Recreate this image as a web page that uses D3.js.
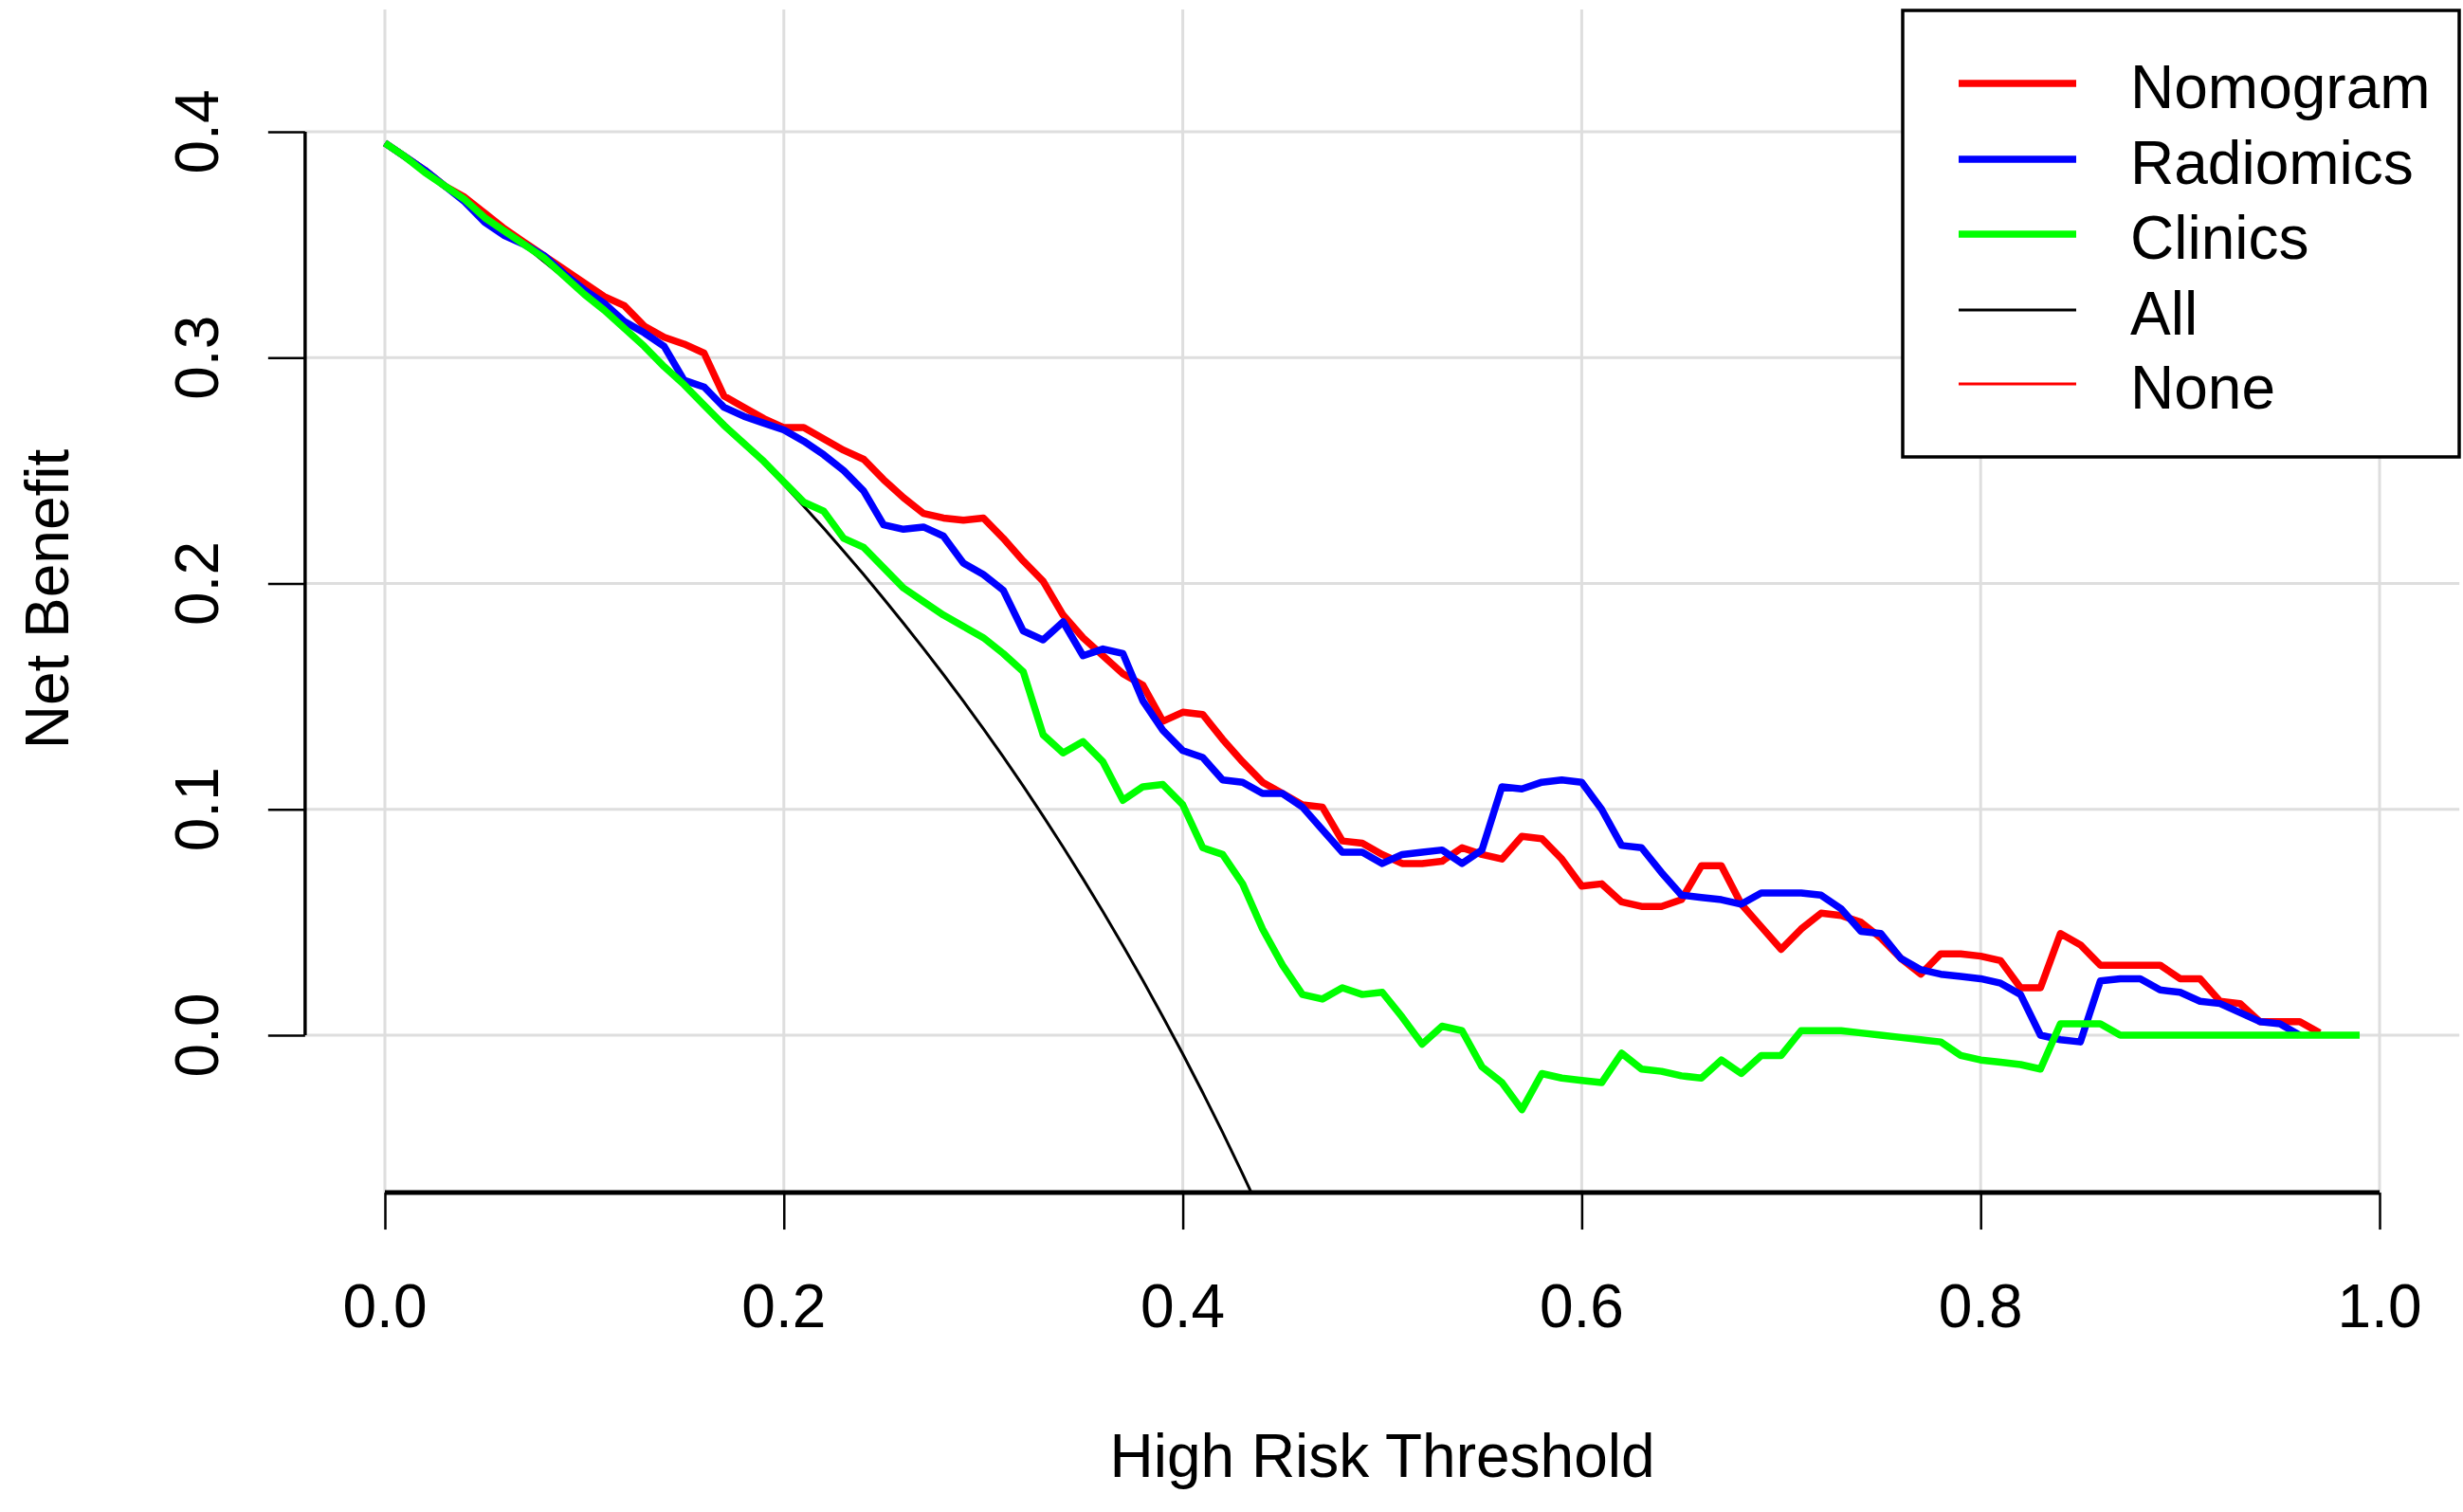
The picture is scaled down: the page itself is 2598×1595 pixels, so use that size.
<!DOCTYPE html>
<html>
<head>
<meta charset="utf-8">
<script src="https://cdn.jsdelivr.net/npm/d3@7/dist/d3.min.js"></script>
<style>
  html, body { margin: 0; padding: 0; background: #ffffff; }
  svg { display: block; }
  text { font-family: "Liberation Sans", Arial, "Helvetica", sans-serif; fill: #000; }
</style>
</head>
<body>
<svg id="chart" width="2598" height="1595"></svg>
<script>
// ---------- data ----------
const thresholds = [
  0.00,0.01,0.02,0.03,0.04,0.05,0.06,0.07,0.08,0.09,
  0.10,0.11,0.12,0.13,0.14,0.15,0.16,0.17,0.18,0.19,
  0.20,0.21,0.22,0.23,0.24,0.25,0.26,0.27,0.28,0.29,
  0.30,0.31,0.32,0.33,0.34,0.35,0.36,0.37,0.38,0.39,
  0.40,0.41,0.42,0.43,0.44,0.45,0.46,0.47,0.48,0.49,
  0.50,0.51,0.52,0.53,0.54,0.55,0.56,0.57,0.58,0.59,
  0.60,0.61,0.62,0.63,0.64,0.65,0.66,0.67,0.68,0.69,
  0.70,0.71,0.72,0.73,0.74,0.75,0.76,0.77,0.78,0.79,
  0.80,0.81,0.82,0.83,0.84,0.85,0.86,0.87,0.88,0.89,
  0.90,0.91,0.92,0.93,0.94,0.95,0.96,0.97,0.98,0.99
];

const nomogram = [
  0.395,0.389,0.383,0.376,0.371,0.364,0.357,0.351,0.345,0.339,
  0.333,0.327,0.323,0.314,0.309,0.306,0.302,0.283,0.278,0.273,
  0.269,0.269,0.264,0.259,0.255,0.246,0.238,0.231,0.229,0.228,
  0.229,0.220,0.210,0.201,0.186,0.176,0.168,0.160,0.155,0.139,
  0.143,0.142,0.131,0.121,0.112,0.107,0.102,0.101,0.086,0.085,
  0.080,0.076,0.076,0.077,0.083,0.080,0.078,0.088,0.087,0.078,
  0.066,0.067,0.059,0.057,0.057,0.060,0.075,0.075,0.058,0.048,
  0.038,0.047,0.054,0.053,0.050,0.043,0.034,0.027,0.036,0.036,
  0.035,0.033,0.021,0.021,0.045,0.040,0.031,0.031,0.031,0.031,
  0.025,0.025,0.015,0.014,0.006,0.006,0.006,0.001
];

const radiomics = [
  0.395,0.389,0.383,0.376,0.369,0.360,0.354,0.350,0.345,0.337,
  0.330,0.324,0.316,0.311,0.305,0.290,0.287,0.278,0.274,0.271,
  0.268,0.263,0.257,0.250,0.241,0.226,0.224,0.225,0.221,0.209,
  0.204,0.197,0.179,0.175,0.183,0.168,0.171,0.169,0.148,0.135,
  0.126,0.123,0.113,0.112,0.107,0.107,0.101,0.091,0.081,0.081,
  0.076,0.080,0.081,0.082,0.076,0.082,0.110,0.109,0.112,0.113,
  0.112,0.100,0.084,0.083,0.072,0.062,0.061,0.060,0.058,0.063,
  0.063,0.063,0.062,0.056,0.046,0.045,0.034,0.029,0.027,0.026,
  0.025,0.023,0.018,0.000,-0.002,-0.003,0.024,0.025,0.025,0.020,
  0.019,0.015,0.014,0.010,0.006,0.005,0.000
];

const clinics = [
  0.395,0.389,0.382,0.376,0.370,0.362,0.356,0.350,0.344,0.336,
  0.328,0.321,0.313,0.305,0.296,0.288,0.279,0.270,0.262,0.254,
  0.245,0.236,0.232,0.220,0.216,0.207,0.198,0.192,0.186,0.181,
  0.176,0.169,0.161,0.133,0.125,0.130,0.121,0.104,0.110,0.111,
  0.102,0.083,0.080,0.067,0.047,0.031,0.018,0.016,0.021,0.018,
  0.019,0.008,-0.004,0.004,0.002,-0.014,-0.021,-0.033,-0.017,-0.019,
  -0.020,-0.021,-0.008,-0.015,-0.016,-0.018,-0.019,-0.011,-0.017,-0.009,
  -0.009,0.002,0.002,0.002,0.001,0.000,-0.001,-0.002,-0.003,-0.009,
  -0.011,-0.012,-0.013,-0.015,0.005,0.005,0.005,0.000,0.000,0.000,
  0.000,0.000,0.000,0.000,0.000,0.000,0.000,0.000,0.000,0.000
];

const treatAll = [
  0.395,0.3889,0.3827,0.3763,0.3698,0.3632,0.3564,0.3495,0.3424,0.3352,
  0.3278,0.3202,0.3125,0.3046,0.2965,0.2882,0.2798,0.2711,0.2622,0.2531,
  0.2438,0.2342,0.2244,0.2143,0.2040,0.1933,0.1824,0.1712,0.1597,0.1479,
  0.1357,0.1232,0.1103,0.0970,0.0833,0.0692,0.0547,0.0397,0.0242,0.0082,
  -0.0083,-0.0254,-0.0431,-0.0614,-0.0804
];

const xTicks = [0.0, 0.2, 0.4, 0.6, 0.8, 1.0];
const yTicks = [0.0, 0.1, 0.2, 0.3, 0.4];
const xTickLabels = ["0.0", "0.2", "0.4", "0.6", "0.8", "1.0"];
const yTickLabels = ["0.0", "0.1", "0.2", "0.3", "0.4"];
const legendNames = ["Nomogram", "Radiomics", "Clinics", "All", "None"];
const legendColors = ["#ff0000", "#0000ff", "#00ff00", "#000000", "#ff0000"];
const legendWidths = [7.5, 7.5, 7.5, 3, 3];

// ---------- layout ----------
const svg = d3.select("#chart");
const x = d3.scaleLinear().domain([0, 1]).range([406, 2510]);
const y = d3.scaleLinear().domain([0, 0.4]).range([1092, 139]);
const regionX = [x(-0.04), x(1.04)];
const regionY = [y(-0.0697), 10];
const fontSize = 64;

svg.append("defs").append("clipPath").attr("id", "plotclip")
  .append("rect")
  .attr("x", regionX[0]).attr("y", regionY[1])
  .attr("width", regionX[1] - regionX[0])
  .attr("height", regionY[0] - regionY[1]);

// grid
const grid = svg.append("g").attr("stroke", "#dedede").attr("stroke-width", 3);
grid.selectAll("line.v").data(xTicks).enter().append("line")
  .attr("x1", d => x(d)).attr("x2", d => x(d))
  .attr("y1", regionY[1]).attr("y2", regionY[0]);
grid.selectAll("line.h").data(yTicks).enter().append("line")
  .attr("y1", d => y(d)).attr("y2", d => y(d))
  .attr("x1", regionX[0]).attr("x2", regionX[1]);

// series
const line = d3.line().x(d => x(d[0])).y(d => y(d[1]));
const series = [
  { vals: treatAll, color: "#000000", w: 3 },
  { vals: nomogram, color: "#ff0000", w: 7.5 },
  { vals: radiomics, color: "#0000ff", w: 7.5 },
  { vals: clinics, color: "#00ff00", w: 7.5 }
];
const plotG = svg.append("g").attr("clip-path", "url(#plotclip)");
series.forEach(s => {
  const pts = s.vals.map((v, i) => [thresholds[i], v]);
  plotG.append("path")
    .attr("d", line(pts))
    .attr("fill", "none")
    .attr("stroke", s.color)
    .attr("stroke-width", s.w)
    .attr("stroke-linejoin", "round")
    .attr("stroke-linecap", "butt");
});

// x axis
const xAxis = d3.axisBottom(x).tickValues(xTicks).tickSize(39).tickPadding(0)
  .tickFormat(() => "");
const xg = svg.append("g").attr("transform", `translate(0,${regionY[0]})`).call(xAxis);
xg.select(".domain").attr("d", `M${x(0)},0H${x(1)}`).attr("stroke", "#000").attr("stroke-width", 5);
xg.selectAll(".tick line").attr("stroke", "#000").attr("stroke-width", 2.5);
svg.append("g").selectAll("text").data(xTicks).enter().append("text")
  .attr("x", d => x(d)).attr("y", 1400)
  .attr("text-anchor", "middle").attr("font-size", fontSize)
  .text((d, i) => xTickLabels[i]);

// y axis
const yAxis = d3.axisLeft(y).tickValues(yTicks).tickSize(39).tickFormat(() => "");
const yg = svg.append("g").attr("transform", `translate(${regionX[0]},0)`).call(yAxis);
yg.select(".domain").attr("d", `M0,${y(0)}V${y(0.4)}`).attr("stroke", "#000").attr("stroke-width", 3.5);
yg.selectAll(".tick line").attr("stroke", "#000").attr("stroke-width", 2.5);
svg.append("g").selectAll("text").data(yTicks).enter().append("text")
  .attr("transform", d => `translate(230,${y(d)}) rotate(-90)`)
  .attr("text-anchor", "middle").attr("font-size", fontSize)
  .text((d, i) => yTickLabels[i]);

// axis titles
svg.append("text")
  .attr("x", (x(0) + x(1)) / 2).attr("y", 1558)
  .attr("text-anchor", "middle").attr("font-size", fontSize)
  .text("High Risk Threshold");
svg.append("text")
  .attr("transform", `translate(72,632) rotate(-90)`)
  .attr("text-anchor", "middle").attr("font-size", fontSize)
  .text("Net Benefit");

// legend
const lg = svg.append("g");
lg.append("rect")
  .attr("x", 2007).attr("y", 11).attr("width", 587).attr("height", 471)
  .attr("fill", "#ffffff").attr("stroke", "#000").attr("stroke-width", 3.5);
const rowY = [88, 168, 247, 327, 405];
legendNames.forEach((name, i) => {
  lg.append("line")
    .attr("x1", 2066).attr("x2", 2190)
    .attr("y1", rowY[i]).attr("y2", rowY[i])
    .attr("stroke", legendColors[i]).attr("stroke-width", legendWidths[i]);
  lg.append("text")
    .attr("x", 2247).attr("y", rowY[i] + 26)
    .attr("font-size", fontSize)
    .text(name);
});
</script>
</body>
</html>
